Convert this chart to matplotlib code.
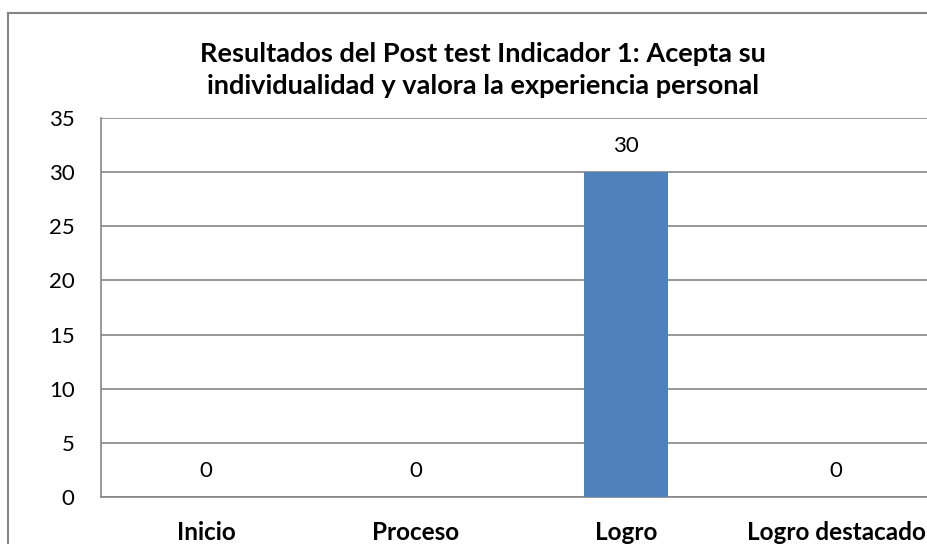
import matplotlib
matplotlib.use("Agg")
import matplotlib.pyplot as plt
from matplotlib.lines import Line2D

categories = ["Inicio", "Proceso", "Logro", "Logro destacado"]
values = [0, 0, 30, 0]
yticks = [0, 5, 10, 15, 20, 25, 30, 35]
title = "Resultados del Post test Indicador 1: Acepta su\nindividualidad y valora la experiencia personal"

W, H = 927, 544
fig = plt.figure(figsize=(W / 100, H / 100), dpi=100)
plt.rcParams['font.family'] = ['Lato', 'DejaVu Sans']

# outer chart border (cropped on right and bottom): top and left edges only
bx, by = 8 / W, 1 - 13 / H
fig.lines.append(Line2D([bx, 1.0], [by, by], transform=fig.transFigure,
                        color="#868686", linewidth=1.5))
fig.lines.append(Line2D([bx, bx], [0.0, by], transform=fig.transFigure,
                        color="#868686", linewidth=1.5))

left, right, top, bottom = 101, 941, 118, 497
ax = fig.add_axes([left / W, 1 - bottom / H, (right - left) / W, (bottom - top) / H])
ax.set_xlim(-0.5, len(categories) - 0.5)
ax.set_ylim(0, 35)
x = range(len(categories))
ax.bar(x, values, width=0.4, color="#4F81BD", zorder=3)
for xi, v in zip(x, values):
    ax.text(xi, v + 1.5, str(v), ha="center", va="bottom", fontsize=16, color="black")

ax.set_yticks(yticks)
ax.set_yticklabels([str(t) for t in yticks], fontsize=16)
ax.set_xticks(list(x))
ax.set_xticklabels(categories, fontsize=17.5, fontweight="bold")
ax.tick_params(axis="both", length=0)
ax.tick_params(axis="y", pad=19)
ax.tick_params(axis="x", pad=17)
ax.grid(axis="y", color="#868686", linewidth=1.2, zorder=0)
for s in ["top", "right"]:
    ax.spines[s].set_visible(False)
ax.spines["left"].set_color("#868686")
ax.spines["bottom"].set_color("#868686")
ax.spines["left"].set_linewidth(1.2)
ax.spines["bottom"].set_linewidth(1.2)

fig.text(483 / W, 1 - 70 / H, title, ha="center", va="center", fontsize=19.5,
         fontweight="bold", linespacing=1.35)

fig.savefig("out.png", dpi=100)
